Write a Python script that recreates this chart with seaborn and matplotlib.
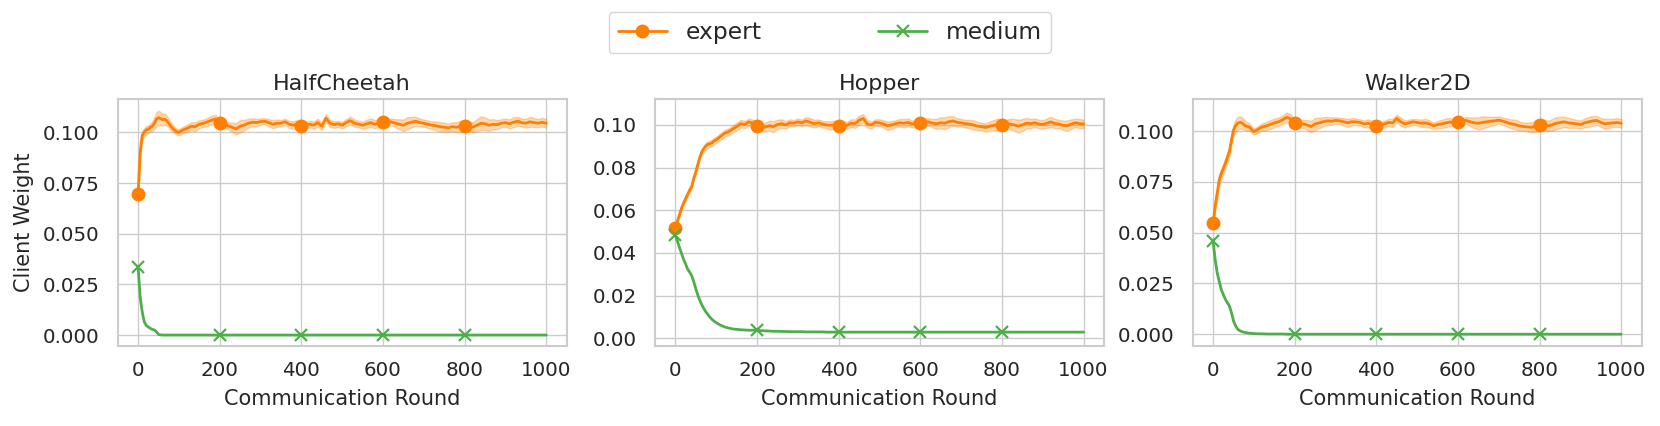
import numpy as np
import matplotlib
matplotlib.use("Agg")
import matplotlib.pyplot as plt
from matplotlib.ticker import MultipleLocator
import seaborn as sns

# ---------------- data ----------------
rounds = list(range(0, 101, 5)) + list(range(110, 1001, 10))

titles = ["HalfCheetah", "Hopper", "Walker2D"]
series_names = ["expert", "medium"]

hc_expert = [0.0694, 0.090, 0.0985, 0.100, 0.1012, 0.1015, 0.1025, 0.1030, 0.1045, 0.1065,
             0.1072, 0.1068, 0.1062, 0.1065, 0.1058, 0.1045, 0.1030, 0.1018, 0.1010, 0.1003, 0.1000,
             0.1012, 0.1020, 0.1030, 0.1028, 0.1040, 0.1045, 0.1052, 0.1060, 0.1066, 0.1045,
             0.1040, 0.1033, 0.1025, 0.1017, 0.1030, 0.1036, 0.1045, 0.1050, 0.1048, 0.1053,
             0.1055, 0.1048, 0.1040, 0.1045, 0.1045, 0.1052, 0.1040, 0.1035, 0.1042, 0.1033,
             0.1038, 0.1040, 0.1035, 0.1048, 0.1030, 0.1070, 0.1045, 0.1038, 0.1042, 0.1035,
             0.1048, 0.1058, 0.1045, 0.1040, 0.1035, 0.1042, 0.1048, 0.1040, 0.1045, 0.1053,
             0.1050, 0.1052, 0.1045, 0.1040, 0.1035, 0.1045, 0.1050, 0.1055, 0.1048, 0.1045,
             0.1040, 0.1035, 0.1032, 0.1028, 0.1025, 0.1022, 0.1028, 0.1025, 0.1030, 0.1033,
             0.1030, 0.1025, 0.1035, 0.1045, 0.1042, 0.1035, 0.1040, 0.1038, 0.1045, 0.1048,
             0.1042, 0.1050, 0.1055, 0.1048, 0.1045, 0.1052, 0.1048, 0.1045, 0.1050, 0.1045]
hc_expert_band = [0.004, 0.003, 0.0022, 0.002, 0.002, 0.002, 0.002, 0.0025, 0.003, 0.0035,
                  0.0035, 0.0032, 0.003, 0.0028, 0.0025, 0.0022, 0.002, 0.0018, 0.0016, 0.0015, 0.0015,
                  0.0016, 0.0018, 0.0020, 0.0022, 0.0020, 0.0018, 0.0020, 0.0022, 0.0020, 0.0018,
                  0.0016, 0.0018, 0.0022, 0.0028, 0.0030, 0.0026, 0.0022, 0.0020, 0.0018, 0.0016,
                  0.0015, 0.0018, 0.0020, 0.0018, 0.0016, 0.0015, 0.0017, 0.0020, 0.0018, 0.0016,
                  0.0015, 0.0016, 0.0018, 0.0020, 0.0018, 0.0020, 0.0018, 0.0016, 0.0015, 0.0016,
                  0.0018, 0.0020, 0.0018, 0.0016, 0.0018, 0.0020, 0.0022, 0.0020, 0.0018, 0.0016,
                  0.0015, 0.0017, 0.0020, 0.0024, 0.0028, 0.0030, 0.0026, 0.0022, 0.0020, 0.0018,
                  0.0018, 0.0020, 0.0022, 0.0024, 0.0022, 0.0020, 0.0022, 0.0025, 0.0028, 0.0025,
                  0.0022, 0.0025, 0.0030, 0.0034, 0.0032, 0.0028, 0.0025, 0.0022, 0.0020, 0.0020,
                  0.0022, 0.0025, 0.0022, 0.0020, 0.0022, 0.0025, 0.0022, 0.0020, 0.0022, 0.0020]
hc_medium = [0.0336, 0.0189, 0.0115, 0.0066, 0.0047, 0.0040, 0.0033, 0.0028, 0.0025, 0.0016,
             0.0003, 0.0001, 0.0, 0.0, 0.0, 0.0, 0.0, 0.0, 0.0, 0.0, 0.0] + [0.0] * 90

hop_expert = [0.0518, 0.055, 0.058, 0.061, 0.0634, 0.0655, 0.0675, 0.0695, 0.0712, 0.075,
              0.078, 0.0815, 0.085, 0.0875, 0.089, 0.0902, 0.0909, 0.0912, 0.0916, 0.0925, 0.093,
              0.0945, 0.0960, 0.0968, 0.0980, 0.0992, 0.1006, 0.1002, 0.1014, 0.1008, 0.0995,
              0.0985, 0.0990, 0.0996, 0.0992, 0.1002, 0.1006, 0.1000, 0.1010, 0.1008, 0.1014,
              0.1010, 0.1019, 0.1012, 0.1006, 0.1010, 0.1004, 0.1000, 0.0998, 0.1002, 0.0997,
              0.1004, 0.0998, 0.1008, 0.1006, 0.1022, 0.1030, 0.1005, 0.1000, 0.1012, 0.1010,
              0.1004, 0.0996, 0.1000, 0.1006, 0.1010, 0.1008, 0.1012, 0.1004, 0.1008, 0.1011,
              0.1016, 0.1014, 0.1008, 0.1005, 0.1010, 0.1008, 0.1015, 0.1019, 0.1012, 0.1010,
              0.1006, 0.1004, 0.1000, 0.0994, 0.0992, 0.0988, 0.0994, 0.0998, 0.1002, 0.0998,
              0.1002, 0.1004, 0.1000, 0.0994, 0.1000, 0.1008, 0.1006, 0.1010, 0.1004, 0.1002,
              0.1008, 0.1014, 0.1006, 0.1004, 0.0998, 0.0996, 0.1004, 0.1010, 0.1006, 0.1004]
hop_expert_band = [0.0012, 0.0012, 0.0012, 0.0012, 0.0012, 0.0012, 0.0012, 0.0012, 0.0012, 0.0012,
                   0.0012, 0.0012, 0.0013, 0.0014, 0.0015, 0.0015, 0.0015, 0.0015, 0.0015, 0.0015, 0.0015,
                   0.0015, 0.0016, 0.0016, 0.0017, 0.0018, 0.0018, 0.0017, 0.0016, 0.0016, 0.0015,
                   0.0016, 0.0020, 0.0024, 0.0026, 0.0022, 0.0020, 0.0018, 0.0016, 0.0015, 0.0016,
                   0.0015, 0.0018, 0.0020, 0.0018, 0.0016, 0.0015, 0.0017, 0.0020, 0.0018, 0.0016,
                   0.0015, 0.0016, 0.0018, 0.0020, 0.0022, 0.0020, 0.0018, 0.0016, 0.0015, 0.0016,
                   0.0018, 0.0020, 0.0018, 0.0016, 0.0018, 0.0020, 0.0018, 0.0016, 0.0015, 0.0016,
                   0.0015, 0.0017, 0.0020, 0.0024, 0.0026, 0.0028, 0.0026, 0.0022, 0.0020, 0.0018,
                   0.0018, 0.0020, 0.0022, 0.0020, 0.0018, 0.0020, 0.0022, 0.0025, 0.0028, 0.0025,
                   0.0022, 0.0025, 0.0028, 0.0030, 0.0028, 0.0025, 0.0022, 0.0020, 0.0020, 0.0020,
                   0.0022, 0.0024, 0.0022, 0.0020, 0.0022, 0.0025, 0.0022, 0.0020, 0.0022, 0.0020]
hop_medium = [0.0482, 0.0455, 0.0425, 0.0398, 0.0370, 0.0348, 0.0324, 0.0310, 0.0293, 0.0265,
              0.0231, 0.0202, 0.0177, 0.0156, 0.0138, 0.0123, 0.0110, 0.0098, 0.0088, 0.0080, 0.0073,
              0.0062, 0.0054, 0.0048, 0.0044, 0.0042, 0.0040, 0.0039, 0.0038, 0.0038, 0.0037,
              0.0036, 0.0035, 0.0034, 0.0033, 0.0033, 0.0032, 0.0032, 0.0031, 0.0031, 0.0031,
              0.0031, 0.0030, 0.0030, 0.0030, 0.0030, 0.0030, 0.0029, 0.0029, 0.0029, 0.0029,
              0.0029, 0.0029, 0.0029, 0.0029, 0.0029, 0.0029, 0.0029, 0.0029, 0.0029, 0.0029,
              0.0029, 0.0029, 0.0029, 0.0029, 0.0029, 0.0029, 0.0029, 0.0029, 0.0029, 0.0029,
              0.0029, 0.0029, 0.0029, 0.0029, 0.0029, 0.0029, 0.0029, 0.0029, 0.0029, 0.0029,
              0.0029, 0.0029, 0.0029, 0.0029, 0.0029, 0.0029, 0.0029, 0.0029, 0.0029, 0.0029,
              0.0029, 0.0029, 0.0029, 0.0029, 0.0029, 0.0029, 0.0029, 0.0029, 0.0029, 0.0029,
              0.0029, 0.0029, 0.0029, 0.0029, 0.0029, 0.0029, 0.0029, 0.0029, 0.0029, 0.0029]

wk_expert = [0.0547, 0.063, 0.0694, 0.076, 0.079, 0.0815, 0.084, 0.087, 0.0899, 0.0956,
             0.1005, 0.1025, 0.1038, 0.1042, 0.1040, 0.1032, 0.1025, 0.1022, 0.1018, 0.1005, 0.0997,
             0.1008, 0.1020, 0.1025, 0.1032, 0.1040, 0.1045, 0.1055, 0.1067, 0.1060, 0.1040,
             0.1038, 0.1035, 0.1030, 0.1022, 0.1035, 0.1040, 0.1046, 0.1050, 0.1048, 0.1052,
             0.1050, 0.1045, 0.1040, 0.1046, 0.1045, 0.1042, 0.1035, 0.1038, 0.1032, 0.1026,
             0.1030, 0.1035, 0.1042, 0.1040, 0.1062, 0.1045, 0.1035, 0.1040, 0.1045, 0.1042,
             0.1038, 0.1040, 0.1035, 0.1025, 0.1032, 0.1035, 0.1040, 0.1044, 0.1042, 0.1046,
             0.1050, 0.1052, 0.1045, 0.1040, 0.1038, 0.1042, 0.1045, 0.1048, 0.1050, 0.1054,
             0.1048, 0.1042, 0.1035, 0.1032, 0.1025, 0.1022, 0.1020, 0.1018, 0.1025, 0.1029,
             0.1032, 0.1025, 0.1030, 0.1038, 0.1042, 0.1045, 0.1040, 0.1038, 0.1035, 0.1032,
             0.1040, 0.1045, 0.1050, 0.1052, 0.1042, 0.1035, 0.1038, 0.1040, 0.1042, 0.1038]
wk_expert_band = [0.003, 0.003, 0.003, 0.003, 0.0025, 0.0025, 0.0025, 0.0025, 0.0025, 0.0025,
                  0.0028, 0.003, 0.0032, 0.003, 0.0028, 0.0025, 0.0022, 0.002, 0.0018, 0.0016, 0.0015,
                  0.0016, 0.0018, 0.0020, 0.0022, 0.0022, 0.0020, 0.0022, 0.0024, 0.0022, 0.0018,
                  0.0016, 0.0020, 0.0024, 0.0028, 0.0030, 0.0026, 0.0022, 0.0020, 0.0018, 0.0016,
                  0.0015, 0.0018, 0.0020, 0.0018, 0.0016, 0.0015, 0.0017, 0.0020, 0.0018, 0.0016,
                  0.0015, 0.0016, 0.0018, 0.0020, 0.0018, 0.0020, 0.0018, 0.0016, 0.0015, 0.0016,
                  0.0018, 0.0020, 0.0018, 0.0016, 0.0018, 0.0020, 0.0022, 0.0020, 0.0018, 0.0016,
                  0.0015, 0.0017, 0.0022, 0.0026, 0.0030, 0.0030, 0.0026, 0.0022, 0.0020, 0.0018,
                  0.0018, 0.0020, 0.0022, 0.0024, 0.0022, 0.0020, 0.0022, 0.0025, 0.0030, 0.0030,
                  0.0026, 0.0025, 0.0028, 0.0030, 0.0028, 0.0025, 0.0025, 0.0022, 0.0020, 0.0020,
                  0.0022, 0.0025, 0.0024, 0.0022, 0.0022, 0.0025, 0.0022, 0.0020, 0.0022, 0.0020]
wk_medium = [0.0457, 0.0368, 0.0302, 0.0260, 0.0220, 0.0195, 0.0172, 0.0155, 0.0139, 0.0106,
             0.0065, 0.0042, 0.0025, 0.0018, 0.0013, 0.0010, 0.0008, 0.0006, 0.0005, 0.0004, 0.0003,
             0.0002, 0.0002, 0.0001, 0.0001, 0.0001, 0.0001, 0.0001, 0.0, 0.0, 0.0] + [0.0] * 80

expert_series = [hc_expert, hop_expert, wk_expert]
expert_bands = [hc_expert_band, hop_expert_band, wk_expert_band]
medium_series = [hc_medium, hop_medium, wk_medium]

yticks_step = [0.025, 0.02, 0.025]
ylims = [(-0.0054, 0.1163), (-0.0036, 0.1120), (-0.0058, 0.1156)]
marker_rounds = [0, 200, 400, 600, 800]

# ---------------- style ----------------
sns.set_theme(style="whitegrid")
plt.rcParams["font.family"] = ["DejaVu Sans"]
plt.rcParams["xtick.major.size"] = 0
plt.rcParams["ytick.major.size"] = 0

c_expert = "#ff7f00"
c_medium = "#4daf4a"

fig = plt.figure(figsize=(16.6, 4.26), dpi=100)
lefts = [117.7 / 1660, 655.0 / 1660, 1192.7 / 1660]
width = 449.0 / 1660
bottom = 1 - 346.0 / 426
height = 246.7 / 426

mk_idx = [rounds.index(r) for r in marker_rounds]
x = np.array(rounds)

axes = []
for i in range(3):
    ax = fig.add_axes([lefts[i], bottom, width, height])
    axes.append(ax)
    ey = np.array(expert_series[i])
    eb = np.array(expert_bands[i])
    ax.fill_between(x, ey - eb, ey + eb, color=c_expert, alpha=0.3, linewidth=1.0)
    sns.lineplot(x=x, y=ey, ax=ax, color=c_expert, linewidth=2.0, marker="o",
                 markersize=9, markeredgecolor=c_expert, markeredgewidth=1,
                 markevery=mk_idx, label="expert", legend=False)
    sns.lineplot(x=x, y=np.array(medium_series[i]), ax=ax, color=c_medium, linewidth=2.0,
                 marker="x", markersize=9, markeredgecolor=c_medium, markeredgewidth=1.6,
                 markevery=mk_idx, label="medium", legend=False)
    ax.set_xlim(-50, 1050)
    ax.set_ylim(*ylims[i])
    ax.xaxis.set_major_locator(MultipleLocator(200))
    ax.yaxis.set_major_locator(MultipleLocator(yticks_step[i]))
    ax.tick_params(axis="x", labelsize=14.3, pad=11)
    ax.tick_params(axis="y", labelsize=14.3, pad=13)
    ax.set_title(titles[i], fontsize=16, pad=7)
    ax.set_xlabel("Communication Round", fontsize=15, labelpad=6)
    if i == 0:
        ax.set_ylabel("Client Weight", fontsize=15, labelpad=6)
    else:
        ax.set_ylabel("")
    for s in ax.spines.values():
        s.set_color("0.8")
        s.set_linewidth(1.5)
    leg = ax.get_legend()
    if leg is not None:
        leg.remove()

handles, labels = axes[0].get_legend_handles_labels()
fig.legend(handles[:2], labels[:2], loc="upper center", bbox_to_anchor=(0.5, 1.0),
           ncol=2, fontsize=16.8, columnspacing=5.0, handlelength=2.1,
           handletextpad=0.8, frameon=True, edgecolor="0.8")

fig.savefig("out.png", dpi=100)
